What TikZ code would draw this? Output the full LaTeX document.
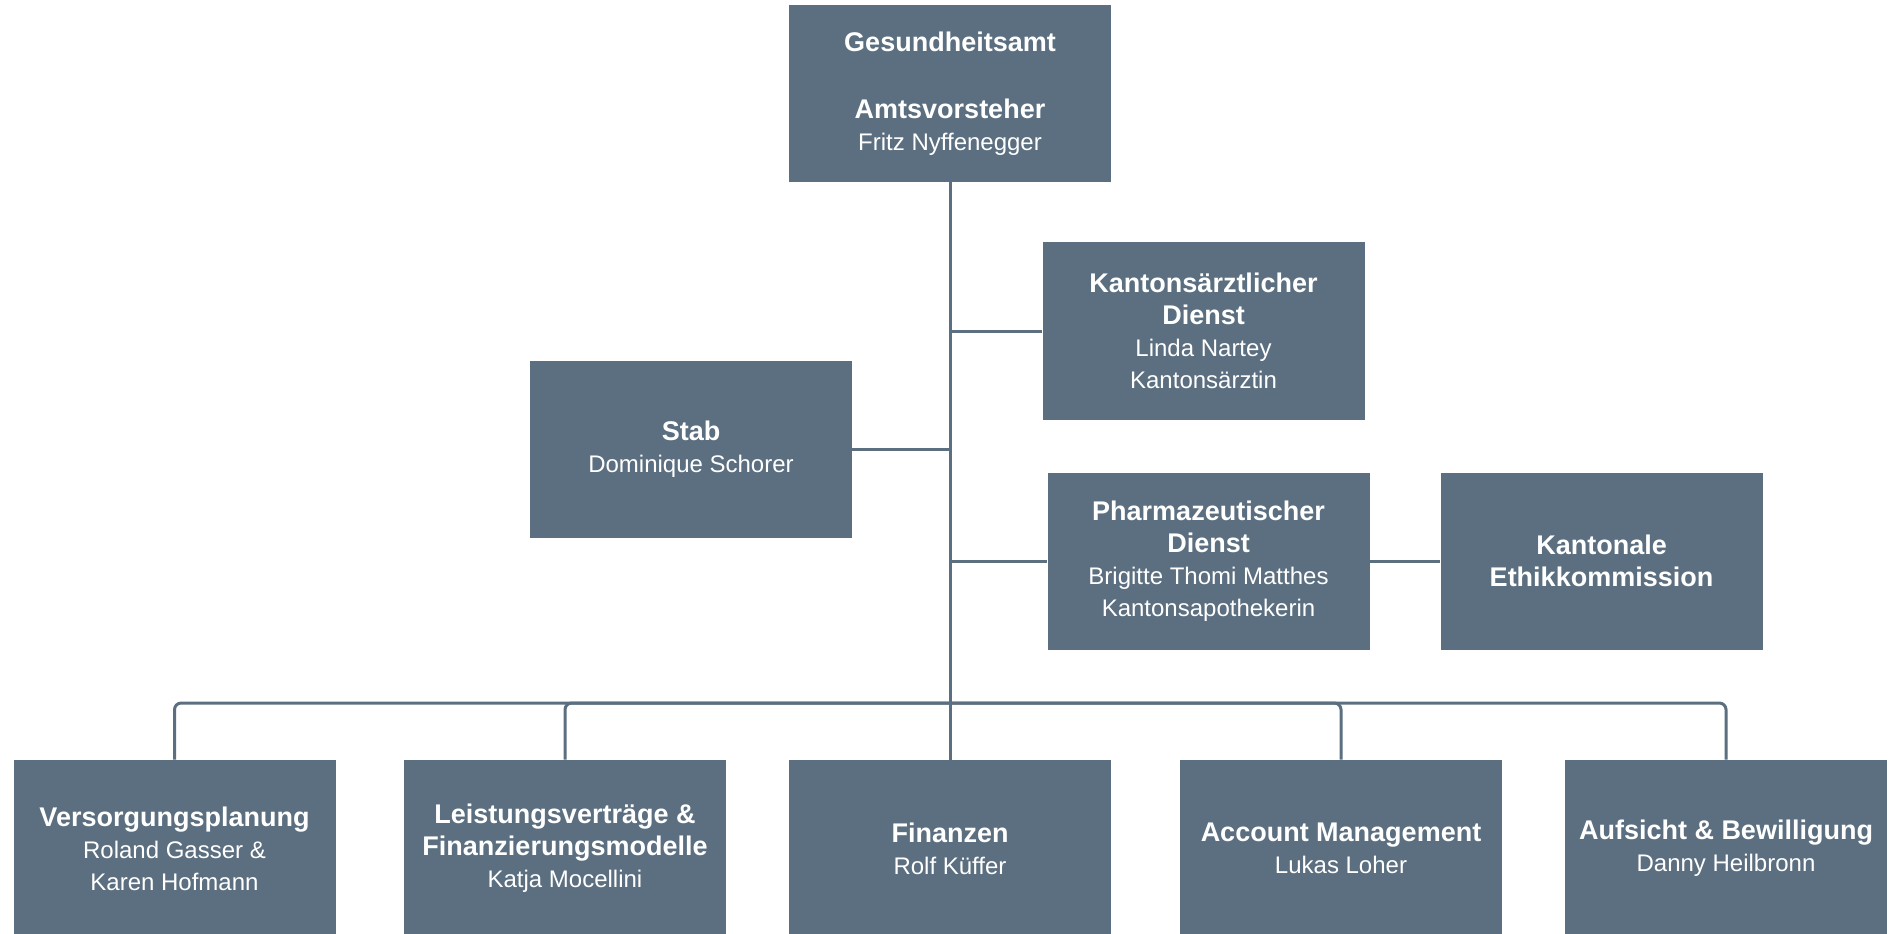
\documentclass[tikz,border=0pt]{standalone}
\usepackage{fontspec}
\setmainfont{Liberation Sans}
\usepackage{tikz}

\definecolor{orgslate}{RGB}{91,111,128}
\newcommand{\unitname}[1]{{\fontsize{20.25pt}{24pt}\selectfont\bfseries #1}}

\tikzset{
  unitbox/.style={fill=orgslate, draw=none, text=white, align=center,
    minimum width=241.5pt, minimum height=132.75pt, inner sep=0pt,
    font=\fontsize{18pt}{24pt}\selectfont},
  link/.style={draw=orgslate, line width=2.25pt, rounded corners=5pt}
}

\begin{document}
\begin{tikzpicture}[x=0.75pt,y=0.75pt,yscale=-1,xscale=1]
\useasboundingbox (0,0) rectangle (1894,934);

%Top
\node [unitbox] (amt) at (950,93.5) {\unitname{Gesundheitsamt}\\[26pt]\unitname{Amtsvorsteher}\\Fritz Nyffenegger};
%Staff and services
\node [unitbox] (kad) at (1203.5,331) {\unitname{Kantonsärztlicher}\\\unitname{Dienst}\\Linda Nartey\\Kantonsärztin};
\node [unitbox] (stab) at (691,449) {\unitname{Stab}\\Dominique Schorer};
\node [unitbox] (pharm) at (1208.5,561) {\unitname{Pharmazeutischer}\\\unitname{Dienst}\\Brigitte Thomi Matthes\\Kantonsapothekerin};
\node [unitbox] (ethik) at (1601.5,561) {\unitname{Kantonale}\\\unitname{Ethikkommission}};
%Divisions
\node [unitbox] (versorgung) at (174.5,848.5) {\unitname{Versorgungsplanung}\\Roland Gasser \&\\Karen Hofmann};
\node [unitbox] (leistung) at (565,848.5) {\unitname{Leistungsverträge \&}\\\unitname{Finanzierungsmodelle}\\Katja Mocellini};
\node [unitbox] (finanzen) at (950,848.5) {\unitname{Finanzen}\\Rolf Küffer};
\node [unitbox] (account) at (1341,848.5) {\unitname{Account Management}\\Lukas Loher};
\node [unitbox] (aufsicht) at (1726,848.5) {\unitname{Aufsicht \& Bewilligung}\\Danny Heilbronn};

%Connectors
\coordinate (bus) at (950,703);
\draw [link] (amt.south) -- (finanzen.north);
\draw [link] (kad.west) -- (kad.west -| amt.south);
\draw [link] (stab.east) -- (stab.east -| amt.south);
\draw [link] (pharm.west) -- (pharm.west -| amt.south);
\draw [link] (pharm.east) -- (ethik.west);
\draw [link] (bus) -| (versorgung.north);
\draw [link] (bus) -| (leistung.north);
\draw [link] (bus) -| (account.north);
\draw [link] (bus) -| (aufsicht.north);

\end{tikzpicture}
\end{document}
